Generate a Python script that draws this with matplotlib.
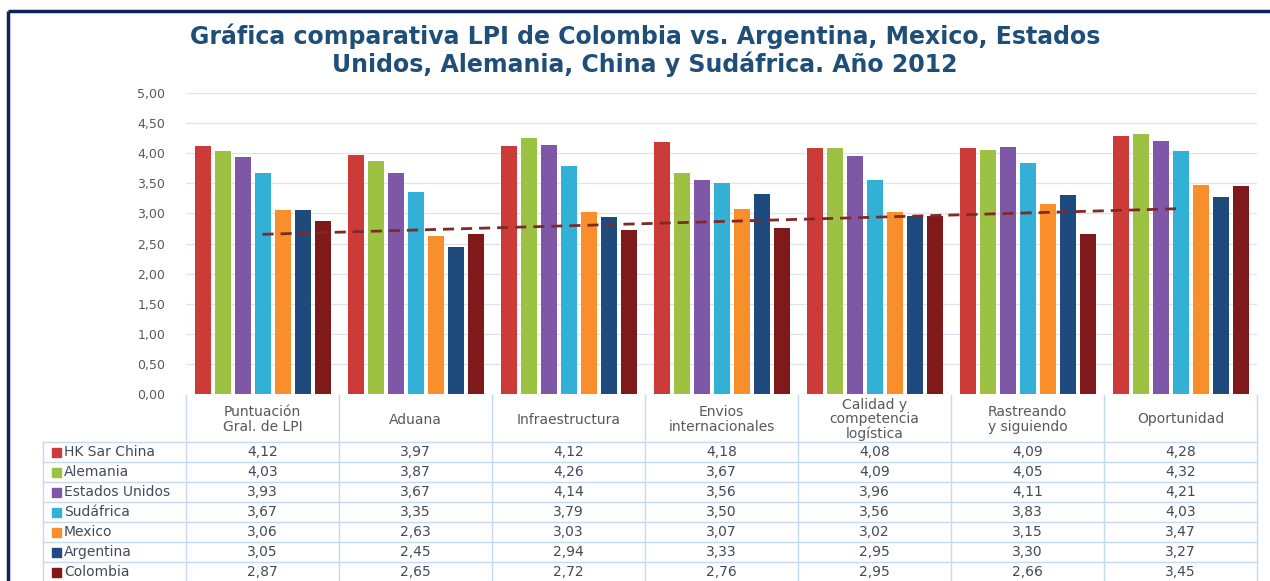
import numpy as np
import matplotlib
matplotlib.use("Agg")
import matplotlib.pyplot as plt
from matplotlib.patches import Rectangle

plt.rcParams['font.family'] = ['DejaVu Sans']

categories = ["Puntuación\nGral. de LPI", "Aduana", "Infraestructura", "Envios\ninternacionales",
              "Calidad y\ncompetencia\nlogística", "Rastreando\ny siguiendo", "Oportunidad"]
series_names = ["HK Sar China", "Alemania", "Estados Unidos", "Sudáfrica", "Mexico", "Argentina", "Colombia"]
hk = [4.12, 3.97, 4.12, 4.18, 4.08, 4.09, 4.28]
alemania = [4.03, 3.87, 4.26, 3.67, 4.09, 4.05, 4.32]
usa = [3.93, 3.67, 4.14, 3.56, 3.96, 4.11, 4.21]
sudafrica = [3.67, 3.35, 3.79, 3.50, 3.56, 3.83, 4.03]
mexico = [3.06, 2.63, 3.03, 3.07, 3.02, 3.15, 3.47]
argentina = [3.05, 2.45, 2.94, 3.33, 2.95, 3.30, 3.27]
colombia = [2.87, 2.65, 2.72, 2.76, 2.95, 2.66, 3.45]
yticks = [0, 0.5, 1.0, 1.5, 2.0, 2.5, 3.0, 3.5, 4.0, 4.5, 5.0]

series = [hk, alemania, usa, sudafrica, mexico, argentina, colombia]
colors = ["#CC3B37", "#9DC143", "#7E57A6", "#33B0D6", "#F98F2A", "#1F4A7D", "#80191A"]

W, H = 1270, 581
fig = plt.figure(figsize=(W/100, H/100), dpi=100)

def px_axes(l, t, r, b):
    return [l/W, 1 - b/H, (r-l)/W, (b-t)/H]

ax_left, ax_right, ax_top, ax_bottom = 186, 1257, 93, 394
ax = fig.add_axes(px_axes(ax_left, ax_top, ax_right, ax_bottom))
n = len(categories)
x = np.arange(n)
step = 20/153
bw = 16/153
for i, (vals, c) in enumerate(zip(series, colors)):
    ax.bar(x + (i-3)*step, vals, width=bw, color=c, zorder=3, label=series_names[i])

# linear trend of Colombia
coef = np.polyfit(x, colombia, 1)
ax.plot(x, np.polyval(coef, x), ls=(0, (4, 2.5)), color="#7F2A2A", lw=2, zorder=4)

ax.set_xlim(-0.5, n-0.5)
ax.set_ylim(0, 5)
ax.set_yticks(yticks)
ax.set_yticklabels([f"{v:.2f}".replace(".", ",") for v in yticks], fontsize=9, color="#595959")
ax.tick_params(axis='y', length=0, pad=15)
ax.set_xticks([])
for s in ax.spines.values():
    s.set_visible(False)
ax.grid(axis='y', color="#DCE6F2", lw=1, zorder=0)
ax.set_axisbelow(True)

# overlay in pixel coordinates for table and frame
ov = fig.add_axes([0, 0, 1, 1], zorder=-1)
ov.set_xlim(0, W)
ov.set_ylim(H, 0)
ov.axis('off')

line_c = "#C6D9F1"
col_w = (ax_right - ax_left) / n
col_edges = [ax_left + i*col_w for i in range(n+1)]
header_top, header_bot = 395, 442
row_h = 20
label_left = 43
rows_bot = header_bot + row_h*len(series_names)
for e in col_edges:
    ov.plot([e, e], [header_top, rows_bot], color=line_c, lw=1)
ov.plot([label_left, label_left], [header_bot, rows_bot], color=line_c, lw=1)
for r in range(len(series_names)+1):
    y = header_bot + r*row_h
    ov.plot([label_left, ax_right], [y, y], color=line_c, lw=1)

text_c = "#404B5A"
for j, cat in enumerate(categories):
    cx = (col_edges[j] + col_edges[j+1]) / 2
    ov.text(cx, (header_top + header_bot)/2 + 1, cat, ha='center', va='center', fontsize=10,
            color="#595959", linespacing=1.05)
for r, (name, vals, c) in enumerate(zip(series_names, series, colors)):
    cy = header_bot + r*row_h + row_h/2
    ov.add_patch(Rectangle((52, cy-4.5), 9, 9, color=c))
    ov.text(64, cy, name, ha='left', va='center', fontsize=10, color=text_c)
    for j, v in enumerate(vals):
        cx = (col_edges[j] + col_edges[j+1]) / 2
        ov.text(cx, cy, f"{v:.2f}".replace(".", ","), ha='center', va='center', fontsize=10, color=text_c)

# frame
ov.plot([8, 8], [11, H], color="#10225E", lw=2.5, solid_capstyle='butt')
ov.plot([8, W], [11, 11], color="#10225E", lw=2.5, solid_capstyle='butt')

fig.text(645/W, 1 - 50/H, "Gráfica comparativa LPI de Colombia vs. Argentina, Mexico, Estados\nUnidos, Alemania, China y Sudáfrica. Año 2012",
         ha='center', va='center', fontsize=17, fontweight='bold', color="#1F4E79", linespacing=1.12)

fig.savefig("out.png", dpi=100)
